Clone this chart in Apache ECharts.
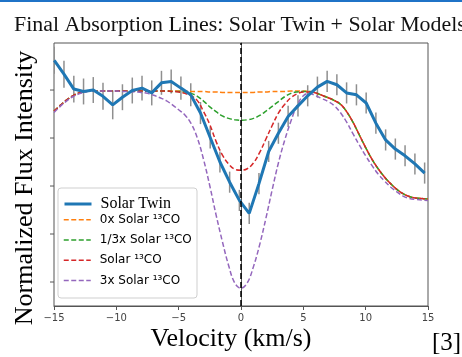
<!DOCTYPE html>
<html>
<head>
<meta charset="utf-8">
<script src="https://cdn.jsdelivr.net/npm/echarts@6/dist/echarts.min.js"></script>
<style>
html,body{margin:0;padding:0;background:#fff;}
#chart{width:462px;height:357px;}
</style>
</head>
<body>
<div id="chart"></div>
<script>
// ---- data ----
const xTicks = [-15, -10, -5, 0, 5, 10, 15];
const yTicks = [0.6, 0.7, 0.8, 0.9, 1.0];

const twinV = [-14.98,-14.20,-13.41,-12.63,-11.85,-11.07,-10.29,-9.51,-8.72,-7.94,-7.16,-6.38,-5.60,-4.82,-4.03,-3.25,-2.47,-1.69,-0.91,-0.13,0.66,1.44,2.22,3.00,3.78,4.57,5.35,6.13,6.91,7.69,8.47,9.26,10.04,10.82,11.60,12.38,13.16,13.95,14.73];
const twinFlux = [1.062,1.033,1.002,0.997,1.000,0.987,0.969,0.985,0.999,1.004,0.994,1.015,1.018,1.004,0.990,0.952,0.901,0.850,0.808,0.770,0.743,0.805,0.872,0.910,0.945,0.967,0.988,1.006,1.018,1.011,0.994,0.990,0.973,0.931,0.896,0.877,0.863,0.846,0.827];
const twinErr = [0.028,0.028,0.028,0.027,0.027,0.028,0.030,0.027,0.027,0.026,0.026,0.025,0.025,0.024,0.024,0.023,0.023,0.022,0.022,0.022,0.022,0.022,0.022,0.022,0.022,0.022,0.022,0.022,0.022,0.022,0.022,0.022,0.022,0.022,0.022,0.022,0.022,0.022,0.022];

const modelV = [-15,-14.5,-14,-13.5,-13,-12.5,-12,-11.5,-11,-10.5,-10,-9.5,-9,-8.5,-8,-7.5,-7,-6.5,-6,-5.5,-5,-4.5,-4,-3.5,-3,-2.5,-2,-1.5,-1,-0.5,0,0.5,1,1.5,2,2.5,3,3.5,4,4.5,5,5.5,6,6.5,7,7.5,8,8.5,9,9.5,10,10.5,11,11.5,12,12.5,13,13.5,14,14.5,15];
const model0x = [0.956,0.968,0.979,0.988,0.994,0.997,0.998,0.998,0.998,0.998,0.998,0.998,0.998,0.998,0.998,0.998,0.998,0.998,0.998,0.998,0.998,0.998,0.997,0.997,0.997,0.996,0.996,0.995,0.995,0.995,0.995,0.995,0.995,0.996,0.996,0.997,0.997,0.997,0.998,0.998,0.998,0.997,0.994,0.989,0.984,0.978,0.970,0.954,0.932,0.906,0.880,0.856,0.836,0.819,0.805,0.793,0.784,0.778,0.775,0.774,0.773];
const model13x = [0.956,0.968,0.979,0.988,0.994,0.997,0.998,0.998,0.998,0.998,0.998,0.998,0.998,0.998,0.998,0.998,0.998,0.998,0.998,0.997,0.997,0.996,0.993,0.987,0.977,0.965,0.955,0.946,0.941,0.938,0.937,0.938,0.941,0.947,0.956,0.966,0.976,0.986,0.993,0.996,0.997,0.997,0.994,0.989,0.984,0.978,0.970,0.954,0.932,0.906,0.880,0.856,0.836,0.819,0.805,0.793,0.784,0.778,0.775,0.774,0.773];
const model1x = [0.956,0.968,0.979,0.988,0.994,0.997,0.998,0.998,0.998,0.998,0.998,0.998,0.998,0.998,0.998,0.998,0.998,0.998,0.998,0.997,0.996,0.993,0.988,0.978,0.955,0.928,0.893,0.865,0.846,0.835,0.833,0.836,0.848,0.870,0.898,0.926,0.952,0.970,0.984,0.992,0.996,0.996,0.994,0.989,0.984,0.978,0.970,0.954,0.932,0.906,0.880,0.856,0.836,0.819,0.805,0.793,0.784,0.778,0.775,0.774,0.773];
const model3x = [0.953,0.966,0.977,0.986,0.992,0.996,0.998,0.998,0.998,0.998,0.998,0.997,0.997,0.996,0.995,0.993,0.989,0.984,0.978,0.969,0.959,0.948,0.930,0.900,0.855,0.800,0.740,0.685,0.635,0.598,0.587,0.598,0.632,0.678,0.733,0.792,0.848,0.895,0.935,0.968,0.988,0.993,0.988,0.982,0.976,0.967,0.952,0.932,0.908,0.885,0.863,0.843,0.825,0.811,0.798,0.788,0.779,0.774,0.772,0.771,0.770];

const names = ['Solar Twin', '0x Solar ¹³CO', '1/3x Solar ¹³CO', 'Solar ¹³CO', '3x Solar ¹³CO'];
const colors = ['#1f77b4', '#ff7f0e', '#2ca02c', '#d62728', '#9467bd'];

// ---- chart ----
const chart = echarts.init(document.getElementById('chart'), null, {renderer: 'canvas'});
const zip = (a, b) => a.map((v, i) => [v, b[i]]);
const dash = [5, 2.5];
const X_MIN = -15, X_MAX = 15, Y_MIN = 0.55, Y_MAX = 1.098;

function modelSeries(idx, ys) {
  return {
    type: 'line', name: names[idx], data: zip(modelV, ys), smooth: 0.4,
    showSymbol: false, symbol: 'none', z: 3,
    lineStyle: {color: colors[idx], width: 1.5, type: dash},
    itemStyle: {color: colors[idx]}
  };
}

const hiddenSymbol = {color: 'rgba(0,0,0,0)', borderColor: 'rgba(0,0,0,0)', borderWidth: 0, opacity: 0};

const option = {
  animation: false,
  backgroundColor: '#fff',
  grid: {left: 54, top: 43, width: 374, height: 263, show: true, borderColor: '#555', borderWidth: 1, containLabel: false},
  xAxis: {
    type: 'value', min: X_MIN, max: X_MAX, interval: 5,
    axisLine: {show: true, lineStyle: {color: '#555', width: 1}},
    axisTick: {show: true, inside: false, length: 4, lineStyle: {color: '#555'}},
    axisLabel: {show: true, margin: 7, color: '#444', fontFamily: 'DejaVu Sans', fontSize: 10,
      formatter: v => (v < 0 ? '\u2212' + (-v) : String(v))},
    splitLine: {show: false}
  },
  yAxis: {
    type: 'value', min: Y_MIN, max: Y_MAX,
    axisLine: {show: true, lineStyle: {color: '#555', width: 1}},
    axisTick: {show: false},
    axisLabel: {show: false},
    splitLine: {show: false}
  },
  legend: [
    {
      data: [names[0]], orient: 'vertical', left: 63, top: 196, itemWidth: 27, itemHeight: 14,
      selectedMode: false, padding: 0, z: 6, itemStyle: hiddenSymbol,
      lineStyle: {width: 3, color: colors[0]},
      textStyle: {fontFamily: 'Liberation Serif', fontSize: 16, color: '#000', padding: [0, 0, 0, 4]}
    },
    {
      data: names.slice(1), orient: 'vertical', left: 63, top: 213.7, itemWidth: 27, itemHeight: 14, itemGap: 8.3,
      selectedMode: false, padding: 0, z: 6, itemStyle: hiddenSymbol,
      lineStyle: {width: 1.5},
      textStyle: {fontFamily: 'DejaVu Sans', fontSize: 12, color: '#000', padding: [0, 0, 0, 4]}
    }
  ],
  graphic: [
    {type: 'rect', left: 0, top: 0, shape: {width: 462, height: 2}, style: {fill: '#1f73c7'}, z: 10},
    {type: 'rect', shape: {x: 58, y: 188, width: 139, height: 110, r: 3}, style: {fill: 'rgba(255,255,255,0.85)', stroke: '#cfcfcf', lineWidth: 1}, z: 5},
    {type: 'text', x: 14, y: 26, scaleX: 1.095, style: {text: 'Final Absorption Lines: Solar Twin + Solar Models', font: '20px "Liberation Serif"', fill: '#111', textVerticalAlign: 'middle'}, z: 10},
    {type: 'text', x: 25, y: 188, rotation: Math.PI / 2, style: {text: 'Normalized Flux Intensity', font: '26px "Liberation Serif"', fill: '#000', textAlign: 'center', textVerticalAlign: 'middle'}, z: 10},
    {type: 'text', x: 231, y: 339, style: {text: 'Velocity (km/s)', font: '26px "Liberation Serif"', fill: '#000', textAlign: 'center', textVerticalAlign: 'middle'}, z: 10},
    {type: 'text', x: 432, y: 343, style: {text: '[3]', font: '25px "Liberation Serif"', fill: '#000', textAlign: 'left', textVerticalAlign: 'middle'}, z: 10}
  ],
  series: [
    {
      // y-axis tick marks at yTicks, positioned through the axis scale
      type: 'custom', name: 'yticks', z: 5, clip: false, silent: true,
      data: yTicks.map(v => [X_MIN, v]),
      renderItem: function (params, api) {
        const p = api.coord([api.value(0), api.value(1)]);
        return {type: 'line', shape: {x1: p[0] - 4, y1: p[1], x2: p[0], y2: p[1]}, style: {stroke: '#555', lineWidth: 1}};
      }
    },
    {
      type: 'custom', name: 'errorbars', z: 2, clip: true, silent: true,
      data: twinV.map((v, i) => [v, twinFlux[i], twinErr[i]]),
      renderItem: function (params, api) {
        const x = api.value(0), y = api.value(1), e = api.value(2);
        const a = api.coord([x, y + e]);
        const b = api.coord([x, y - e]);
        return {type: 'line', shape: {x1: a[0], y1: a[1], x2: b[0], y2: b[1]}, style: {stroke: '#8f8f8f', lineWidth: 1.5}};
      }
    },
    {
      type: 'line', name: names[0], data: zip(twinV, twinFlux), showSymbol: false, symbol: 'none', z: 4,
      lineStyle: {color: colors[0], width: 3}, itemStyle: {color: colors[0]},
      markLine: {
        silent: true, symbol: ['none', 'none'], label: {show: false},
        lineStyle: {color: '#000', type: [6, 3], width: 1.5},
        data: [{xAxis: 0}]
      }
    },
    modelSeries(1, model0x),
    modelSeries(2, model13x),
    modelSeries(3, model1x),
    modelSeries(4, model3x)
  ]
};
chart.setOption(option);
</script>
</body>
</html>
